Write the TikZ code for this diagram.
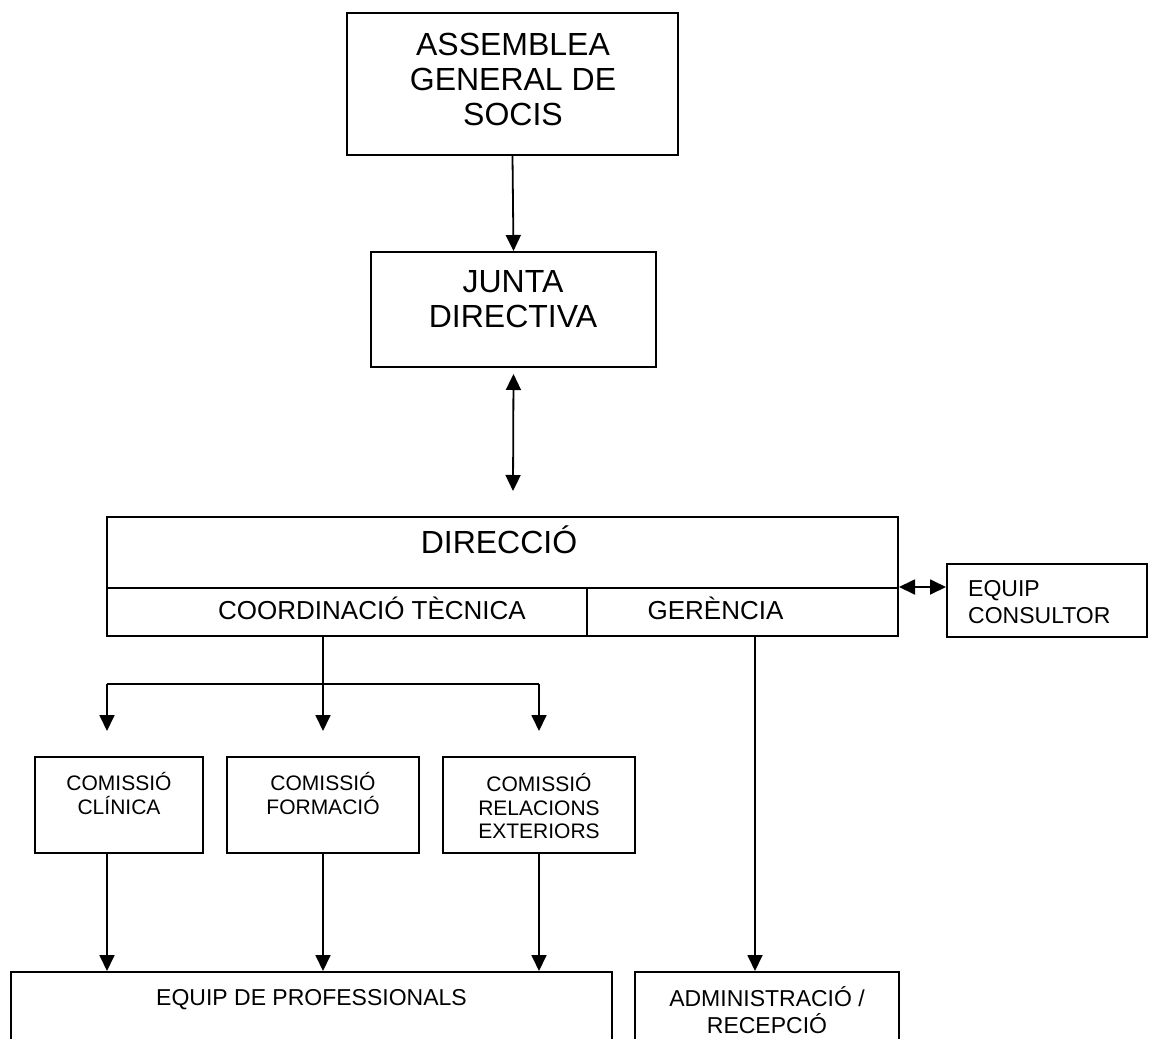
\documentclass[tikz,border=0pt]{standalone}
\usepackage{fontspec}
\setmainfont{Liberation Sans}
\usetikzlibrary{arrows.meta,calc}
\newcommand\fA{\fontsize{32}{35}\selectfont}
\newcommand\fB{\fontsize{26}{30}\selectfont}
\newcommand\fC{\fontsize{23}{27.5}\selectfont}
\newcommand\fD{\fontsize{21}{23.5}\selectfont}
\begin{document}
\begin{tikzpicture}[x=1pt,y=-1pt,
  box/.style={draw, line width=2pt, rectangle, inner sep=0pt},
  txt/.style={inner sep=0pt, align=center},
  conn/.style={line width=1.8pt},
  arr/.style={conn, -{Triangle[width=15pt,length=16pt]}},
  darr/.style={conn, {Triangle[width=15pt,length=16pt]}-{Triangle[width=15pt,length=16pt]}}]
\useasboundingbox (0,0) rectangle (1152,1039);
\clip (0,0) rectangle (1152,1039);
\fill[white] (0,0) rectangle (1152,1039);

% boxes
\node[box, minimum width=331pt, minimum height=142pt] (asm) at (512.5,84) {};
\node[box, minimum width=285pt, minimum height=115pt] (junta) at (513.5,309.5) {};
\node[box, minimum width=791pt, minimum height=71pt] (dir) at (502.5,552.5) {};
\node[box, minimum width=480pt, minimum height=48pt] (coord) at (347,612) {};
\node[box, minimum width=311pt, minimum height=48pt] (ger) at (742.5,612) {};
\node[box, minimum width=200pt, minimum height=73pt] (cons) at (1047,600.5) {};
\node[box, minimum width=168pt, minimum height=96pt] (c1) at (119,805) {};
\node[box, minimum width=192pt, minimum height=96pt] (c2) at (323,805) {};
\node[box, minimum width=192pt, minimum height=96pt] (c3) at (539,805) {};
\node[box, minimum width=601pt, minimum height=100pt] (prof) at (311.5,1022) {};
\node[box, minimum width=264pt, minimum height=100pt] (adm) at (767,1022) {};

% texts
\node[txt, font=\fA] (asmt) at (513,79) {ASSEMBLEA\\GENERAL DE\\SOCIS};
\node[txt, font=\fA] (juntat) at (513,299.5) {JUNTA\\DIRECTIVA};
\node[txt, font=\fA, anchor=base] (dirt) at (499,553.5) {DIRECCIÓ};
\node[txt, font=\fB, anchor=base] (coordt) at (372,619.3) {COORDINACIÓ TÈCNICA};
\node[txt, font=\fB, anchor=base] (gert) at (715.5,619.3) {GERÈNCIA};
\node[txt, font=\fC, align=left, anchor=west] (const) at (968,602) {EQUIP\\CONSULTOR};
\node[txt, font=\fD] (c1t) at (119,793.5) {COMISSIÓ\\CLÍNICA};
\node[txt, font=\fD] (c2t) at (323,793.5) {COMISSIÓ\\FORMACIÓ};
\node[txt, font=\fD] (c3t) at (539,806) {COMISSIÓ\\RELACIONS\\EXTERIORS};
\node[txt, font=\fC, anchor=base] (proft) at (311.5,1005.6) {EQUIP DE PROFESSIONALS};
\node[txt, font=\fC] (admt) at (767,1010) {ADMINISTRACIÓ /\\RECEPCIÓ};

% connectors
\draw[arr] (asm.south) -- (junta.north);
\draw[darr] ($(junta.south)+(0,6)$) -- ($(dir.north)+(10.5,-25)$);
\draw[darr] (ger.north east) -- (ger.north east -| cons.west);

\coordinate (split) at (323,684);
\coordinate (a1) at (107,684);
\coordinate (a3) at (539,684);
\draw[conn] (split |- coord.south) -- (split);
\draw[conn] (a1) -- (a3);
\draw[arr] (a1) -- ($(a1 |- c1.north)+(0,-25)$);
\draw[arr] (split) -- ($(split |- c2.north)+(0,-25)$);
\draw[arr] (a3) -- ($(a3 |- c3.north)+(0,-25)$);

\draw[arr] (a1 |- c1.south) -- (a1 |- prof.north);
\draw[arr] (c2.south) -- (c2.south |- prof.north);
\draw[arr] (c3.south) -- (c3.south |- prof.north);

\coordinate (g) at (755,636);
\draw[arr] (g |- ger.south) -- (g |- adm.north);
\end{tikzpicture}
\end{document}
